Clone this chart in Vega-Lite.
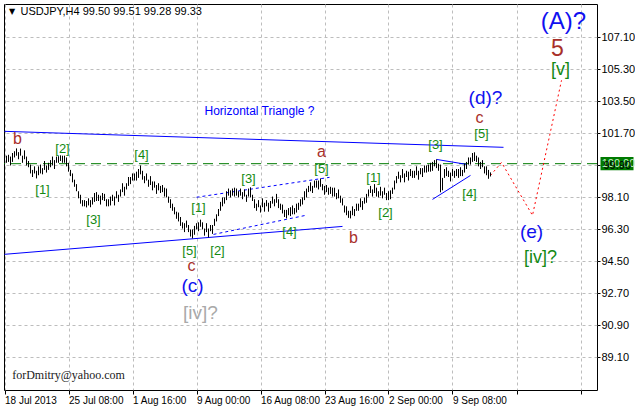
{
"$schema":"https://vega.github.io/schema/vega-lite/v6.json",
"width":593,"height":386,
"autosize":{"type":"none"},
"padding":{"left":4,"top":4,"right":38,"bottom":17},
"background":"#FFFFFF",
"config":{"view":{"stroke":"#000000","strokeWidth":1},"text":{"font":"Liberation Sans"}},
"datasets":{
"bars":[
{"i":1,"h":100.45,"l":100.05},{"i":2,"h":100.5,"l":100.1},{"i":3,"h":100.4,"l":99.9},{"i":4,"h":100.6,"l":100.1},{"i":5,"h":100.7,"l":100.35},{"i":6,"h":100.86,"l":100.45},{"i":7,"h":100.65,"l":100.25},{"i":8,"h":100.85,"l":100.45},{"i":9,"h":100.45,"l":100.05},{"i":10,"h":100.75,"l":100.25},
{"i":11,"h":100.4,"l":99.9},{"i":12,"h":100.15,"l":99.8},{"i":13,"h":99.95,"l":99.45},{"i":14,"h":99.65,"l":99.25},{"i":15,"h":99.85,"l":99.45},{"i":16,"h":99.6,"l":99.17},{"i":17,"h":99.85,"l":99.35},{"i":18,"h":99.95,"l":99.45},{"i":19,"h":99.75,"l":99.4},{"i":20,"h":100.15,"l":99.65},
{"i":21,"h":99.9,"l":99.5},{"i":22,"h":100.05,"l":99.65},{"i":23,"h":100.2,"l":99.8},{"i":24,"h":100.4,"l":99.9},{"i":25,"h":100.2,"l":99.7},{"i":26,"h":100.4,"l":100.05},{"i":27,"h":100.42,"l":100.05},{"i":28,"h":100.47,"l":100.15},{"i":29,"h":100.45,"l":100.05},{"i":30,"h":100.45,"l":100.05},
{"i":31,"h":100.35,"l":99.85},{"i":32,"h":100.05,"l":99.55},{"i":33,"h":99.65,"l":99.3},{"i":34,"h":99.45,"l":98.95},{"i":35,"h":99.1,"l":98.7},{"i":36,"h":98.85,"l":98.45},{"i":37,"h":98.45,"l":98.05},{"i":38,"h":98.25,"l":97.75},{"i":39,"h":97.95,"l":97.6},{"i":40,"h":97.95,"l":97.6},
{"i":41,"h":97.9,"l":97.54},{"i":42,"h":98.05,"l":97.65},{"i":43,"h":97.95,"l":97.55},{"i":44,"h":98.1,"l":97.7},{"i":45,"h":98.35,"l":97.85},{"i":46,"h":98.4,"l":97.9},{"i":47,"h":98.25,"l":97.9},{"i":48,"h":98.2,"l":97.7},{"i":49,"h":98.35,"l":97.95},{"i":50,"h":98.3,"l":97.9},
{"i":51,"h":98.0,"l":97.6},{"i":52,"h":98.0,"l":97.6},{"i":53,"h":98.15,"l":97.65},{"i":54,"h":98.25,"l":97.9},{"i":55,"h":98.15,"l":97.65},{"i":56,"h":98.45,"l":98.05},{"i":57,"h":98.25,"l":97.85},{"i":58,"h":98.55,"l":98.15},{"i":59,"h":98.9,"l":98.4},{"i":60,"h":98.7,"l":98.2},
{"i":61,"h":98.9,"l":98.55},{"i":62,"h":99.25,"l":98.75},{"i":63,"h":99.25,"l":98.85},{"i":64,"h":99.45,"l":99.05},{"i":65,"h":99.45,"l":99.05},{"i":66,"h":99.55,"l":99.05},{"i":67,"h":99.7,"l":99.2},{"i":68,"h":99.9,"l":99.4},{"i":69,"h":99.6,"l":99.1},{"i":70,"h":99.3,"l":98.9},
{"i":71,"h":99.45,"l":99.05},{"i":72,"h":99.1,"l":98.7},{"i":73,"h":99.3,"l":98.8},{"i":74,"h":99.0,"l":98.5},{"i":75,"h":99.0,"l":98.65},{"i":76,"h":98.8,"l":98.3},{"i":77,"h":98.9,"l":98.5},{"i":78,"h":98.75,"l":98.35},{"i":79,"h":98.8,"l":98.4},{"i":80,"h":98.65,"l":98.15},
{"i":81,"h":98.6,"l":98.1},{"i":82,"h":98.15,"l":97.8},{"i":83,"h":98.0,"l":97.5},{"i":84,"h":97.75,"l":97.35},{"i":85,"h":97.55,"l":97.15},{"i":86,"h":97.3,"l":96.9},{"i":87,"h":97.25,"l":96.75},{"i":88,"h":97.0,"l":96.5},{"i":89,"h":96.7,"l":96.35},{"i":90,"h":96.65,"l":96.15},
{"i":91,"h":96.8,"l":96.4},{"i":92,"h":96.55,"l":96.15},{"i":93,"h":96.3,"l":95.9},{"i":94,"h":96.3,"l":95.8},{"i":95,"h":96.5,"l":96.0},{"i":96,"h":96.65,"l":96.3},{"i":97,"h":96.7,"l":96.2},{"i":98,"h":96.85,"l":96.45},{"i":99,"h":96.7,"l":96.3},{"i":100,"h":96.35,"l":95.95},
{"i":101,"h":96.65,"l":96.15},{"i":102,"h":96.35,"l":95.85},{"i":103,"h":96.55,"l":96.2},{"i":104,"h":96.55,"l":96.05},{"i":105,"h":96.9,"l":96.5},{"i":106,"h":97.15,"l":96.75},{"i":107,"h":97.45,"l":97.05},{"i":108,"h":97.85,"l":97.35},{"i":109,"h":98.1,"l":97.6},{"i":110,"h":98.1,"l":97.75},
{"i":111,"h":98.45,"l":97.95},{"i":112,"h":98.6,"l":98.2},{"i":113,"h":98.5,"l":98.1},{"i":114,"h":98.6,"l":98.2},{"i":115,"h":98.65,"l":98.15},{"i":116,"h":98.6,"l":98.2},{"i":117,"h":98.45,"l":98.1},{"i":118,"h":98.6,"l":98.2},{"i":119,"h":98.4,"l":98.0},{"i":120,"h":98.55,"l":98.15},
{"i":121,"h":98.25,"l":97.85},{"i":122,"h":98.6,"l":98.15},{"i":123,"h":98.67,"l":98.1},{"i":124,"h":98.25,"l":97.9},{"i":125,"h":98.0,"l":97.5},{"i":126,"h":97.75,"l":97.35},{"i":127,"h":97.95,"l":97.55},{"i":128,"h":97.65,"l":97.25},{"i":129,"h":98.05,"l":97.55},{"i":130,"h":97.8,"l":97.3},
{"i":131,"h":97.95,"l":97.6},{"i":132,"h":97.8,"l":97.3},{"i":133,"h":97.9,"l":97.5},{"i":134,"h":98.15,"l":97.75},{"i":135,"h":98.0,"l":97.6},{"i":136,"h":98.3,"l":97.8},{"i":137,"h":98.0,"l":97.5},{"i":138,"h":97.75,"l":97.4},{"i":139,"h":97.7,"l":97.2},{"i":140,"h":97.4,"l":97.0},
{"i":141,"h":97.4,"l":96.92},{"i":142,"h":97.5,"l":97.1},{"i":143,"h":97.55,"l":97.05},{"i":144,"h":97.65,"l":97.15},{"i":145,"h":97.5,"l":97.15},{"i":146,"h":97.75,"l":97.25},{"i":147,"h":97.8,"l":97.4},{"i":148,"h":98.0,"l":97.6},{"i":149,"h":98.1,"l":97.7},{"i":150,"h":98.45,"l":97.95},
{"i":151,"h":98.6,"l":98.1},{"i":152,"h":98.75,"l":98.4},{"i":153,"h":98.95,"l":98.45},{"i":154,"h":98.75,"l":98.35},{"i":155,"h":99.05,"l":98.65},{"i":156,"h":99.05,"l":98.65},{"i":157,"h":99.05,"l":98.55},{"i":158,"h":99.17,"l":98.7},{"i":159,"h":98.85,"l":98.5},{"i":160,"h":98.75,"l":98.25},
{"i":161,"h":98.8,"l":98.4},{"i":162,"h":98.65,"l":98.25},{"i":163,"h":98.7,"l":98.3},{"i":164,"h":98.65,"l":98.15},{"i":165,"h":98.65,"l":98.15},{"i":166,"h":98.35,"l":98.0},{"i":167,"h":98.55,"l":98.05},{"i":168,"h":98.2,"l":97.8},{"i":169,"h":98.05,"l":97.65},{"i":170,"h":97.65,"l":97.25},
{"i":171,"h":97.6,"l":97.1},{"i":172,"h":97.35,"l":96.95},{"i":173,"h":97.35,"l":96.92},{"i":174,"h":97.6,"l":97.1},{"i":175,"h":97.45,"l":97.05},{"i":176,"h":97.75,"l":97.35},{"i":177,"h":97.75,"l":97.35},{"i":178,"h":98.05,"l":97.55},{"i":179,"h":97.9,"l":97.4},{"i":180,"h":98.1,"l":97.75},
{"i":181,"h":98.3,"l":97.8},{"i":182,"h":98.55,"l":98.15},{"i":183,"h":98.75,"l":98.35},{"i":184,"h":98.55,"l":98.15},{"i":185,"h":98.85,"l":98.35},{"i":186,"h":98.65,"l":98.15},{"i":187,"h":98.45,"l":98.1},{"i":188,"h":98.7,"l":98.2},{"i":189,"h":98.45,"l":98.05},{"i":190,"h":98.65,"l":98.25},
{"i":191,"h":98.35,"l":97.95},{"i":192,"h":98.45,"l":97.95},{"i":193,"h":98.5,"l":98.0},{"i":194,"h":98.65,"l":98.3},{"i":195,"h":99.05,"l":98.55},{"i":196,"h":99.3,"l":98.9},{"i":197,"h":99.55,"l":99.15},{"i":198,"h":99.35,"l":98.95},{"i":199,"h":99.7,"l":99.2},{"i":200,"h":99.45,"l":98.95},
{"i":201,"h":99.6,"l":99.25},{"i":202,"h":99.55,"l":99.05},{"i":203,"h":99.7,"l":99.3},{"i":204,"h":99.6,"l":99.2},{"i":205,"h":99.6,"l":99.2},{"i":206,"h":99.85,"l":99.35},{"i":207,"h":99.6,"l":99.1},{"i":208,"h":99.75,"l":99.4},{"i":209,"h":99.75,"l":99.25},{"i":210,"h":99.9,"l":99.5},
{"i":211,"h":99.9,"l":99.5},{"i":212,"h":99.95,"l":99.55},{"i":213,"h":100.05,"l":99.55},{"i":214,"h":100.1,"l":99.6},{"i":215,"h":100.2,"l":99.85},{"i":216,"h":100.24,"l":99.75},{"i":217,"h":100.0,"l":99.6},{"i":218,"h":99.95,"l":98.39},{"i":219,"h":99.2,"l":98.5},{"i":220,"h":99.7,"l":99.2},
{"i":221,"h":99.8,"l":99.3},{"i":222,"h":99.6,"l":99.25},{"i":223,"h":99.5,"l":99.0},{"i":224,"h":99.7,"l":99.3},{"i":225,"h":99.6,"l":99.2},{"i":226,"h":99.7,"l":99.3},{"i":227,"h":99.7,"l":99.2},{"i":228,"h":99.8,"l":99.3},{"i":229,"h":99.65,"l":99.3},{"i":230,"h":100.0,"l":99.5},
{"i":231,"h":100.1,"l":99.7},{"i":232,"h":100.35,"l":99.95},{"i":233,"h":100.35,"l":99.95},{"i":234,"h":100.6,"l":100.1},{"i":235,"h":100.64,"l":100.15},{"i":236,"h":100.45,"l":100.1},{"i":237,"h":100.35,"l":99.85},{"i":238,"h":100.1,"l":99.7},{"i":239,"h":100.2,"l":99.8},{"i":240,"h":99.85,"l":99.45},
{"i":241,"h":99.85,"l":99.35},{"i":242,"h":99.65,"l":99.15},{"i":243,"h":99.51,"l":99.28}
],
"solid":[
{"s":"upper","i":0,"p":101.82},{"s":"upper","i":249.5,"p":100.92},
{"s":"lower","i":0,"p":94.9},{"s":"lower","i":169,"p":96.47},
{"s":"small1","i":214,"p":97.99},{"s":"small1","i":233,"p":99.34},
{"s":"small2","i":216,"p":100.24},{"s":"small2","i":231,"p":99.96}
],
"dashed":[
{"s":"top","i":96,"p":98.11},{"s":"top","i":162.5,"p":99.23},
{"s":"bot","i":104.5,"p":96.02},{"s":"bot","i":150.5,"p":97.09}
],
"forecast":[
{"i":243,"p":99.34},{"i":248.5,"p":100.07},{"i":264,"p":97.09},{"i":278.5,"p":104.69}
],
"labels":[
{"k":"g","t":"[1]","i":19,"p":98.5},{"k":"g","t":"[2]","i":29,"p":100.8},{"k":"g","t":"[3]","i":44.5,"p":96.81},{"k":"g","t":"[4]","i":68.5,"p":100.47},
{"k":"g","t":"[1]","i":97,"p":97.49},{"k":"g","t":"[2]","i":106.5,"p":95.07},{"k":"g","t":"[3]","i":122,"p":99.12},{"k":"g","t":"[4]","i":142.5,"p":96.14},{"k":"g","t":"[5]","i":92.5,"p":95.07},
{"k":"g","t":"[5]","i":158.5,"p":99.68},{"k":"g","t":"[1]","i":184.5,"p":99.17},{"k":"g","t":"[2]","i":190.5,"p":97.2},{"k":"g","t":"[3]","i":215.5,"p":101.03},{"k":"g","t":"[4]","i":232.5,"p":98.27},{"k":"g","t":"[5]","i":238.5,"p":101.66},
{"k":"r","t":"b","i":6.5,"p":101.37},{"k":"r","t":"c","i":93.5,"p":94.25},{"k":"r","t":"a","i":158.5,"p":100.63},{"k":"r","t":"b","i":174.5,"p":95.8},{"k":"r","t":"c","i":237.5,"p":102.58},
{"k":"b","t":"(c)","i":94,"p":93.1},{"k":"b","t":"(d)?","i":240.5,"p":103.7},{"k":"b","t":"(e)","i":263.5,"p":96.13},
{"k":"gray","t":"[iv]?","i":98,"p":91.58},
{"k":"gbig","t":"[iv]?","i":268,"p":94.67},{"k":"gbig","t":"[v]","i":278,"p":105.25},
{"k":"A","t":"(A)?","i":279.5,"p":107.95},
{"k":"five","t":"5","i":276.5,"p":106.48},
{"k":"ht","t":"Horizontal Triangle ?","i":127.5,"p":102.94},
{"k":"mail","t":"forDmitry@yahoo.com","i":32,"p":88.09},
{"k":"title","t":"USDJPY,H4  99.50 99.51 99.28 99.33","i":8,"p":108.51},
{"k":"tri","t":"▼","i":3.8,"p":108.51}
]
},
"layer":[
{"data":{"values":[{"p":100}]},"mark":{"type":"rule","color":"#007A00","strokeWidth":1,"strokeDash":[10,6]},
 "encoding":{"y":{"field":"p","type":"quantitative","title":null}}},
{"data":{"name":"solid"},"mark":{"type":"line","color":"#0000FF","strokeWidth":1},
 "encoding":{"x":{"field":"i","type":"quantitative","title":null},"y":{"field":"p","type":"quantitative","title":null},"detail":{"field":"s"}}},
{"data":{"name":"dashed"},"mark":{"type":"line","color":"#0000FF","strokeWidth":1,"strokeDash":[3,3]},
 "encoding":{"x":{"field":"i","type":"quantitative","title":null},"y":{"field":"p","type":"quantitative","title":null},"detail":{"field":"s"}}},
{"data":{"name":"forecast"},"mark":{"type":"line","color":"#FF0000","strokeWidth":1,"strokeDash":[2,3]},
 "encoding":{"x":{"field":"i","type":"quantitative","title":null},"y":{"field":"p","type":"quantitative","title":null}}},
{"data":{"name":"bars"},"mark":{"type":"rule","color":"#000000","strokeWidth":1},
 "encoding":{
  "x":{"field":"i","type":"quantitative","title":null,"scale":{"domain":[-0.25,296.25],"nice":false,"zero":false},
   "axis":{"values":[0,32,64,96,128,160,192,224,256,288],"tickCount":20,
    "labelExpr":"datum.value==0?'18 Jul 2013':datum.value==32?'25 Jul 08:00':datum.value==64?'1 Aug 16:00':datum.value==96?'9 Aug 00:00':datum.value==128?'16 Aug 08:00':datum.value==160?'23 Aug 16:00':datum.value==192?'2 Sep 00:00':datum.value==224?'9 Sep 08:00':''",
    "labelAlign":"left","labelBaseline":"top","labelPadding":1,"labelFont":"Liberation Sans","labelFontSize":10,"labelColor":"#000000",
    "tickColor":"#000000","tickSize":4,"domain":false,"grid":true,"gridColor":"#BDBDBD","gridDash":[3,3],
    "labelOverlap":false,"labelBound":false,"labelFlush":false}},
  "y":{"field":"h","type":"quantitative","title":null,"scale":{"domain":[87.265,108.985],"nice":false,"zero":false},
   "axis":{"orient":"right","values":[89.1,90.9,92.7,94.5,96.3,98.1,99.9,101.7,103.5,105.3,107.1],"tickCount":20,
    "labelExpr":"(datum.value>99.8 && datum.value<100) ? '' : format(datum.value,'.2f')",
    "labelFont":"Liberation Sans","labelFontSize":11,"labelColor":"#000000","labelPadding":1,"labelBaseline":"middle",
    "tickColor":"#000000","tickSize":3,"domain":false,"grid":true,"gridColor":"#BDBDBD","gridDash":[3,3],"labelOverlap":false,"labelBound":false,"labelFlush":false}},
  "y2":{"field":"l"}}},
{"data":{"values":[{"a":298,"b":314.5,"p1":100.37,"p2":99.63}]},"mark":{"type":"rect","color":"#007A00"},
 "encoding":{"x":{"field":"a","type":"quantitative","title":null},"x2":{"field":"b"},"y":{"field":"p1","type":"quantitative","title":null},"y2":{"field":"p2"}}},
{"data":{"values":[{"t":"100.00","i":298.6,"p":100.0}]},"mark":{"type":"text","align":"left","baseline":"middle","fontSize":11,"color":"#C8F0C8","font":"Liberation Sans"},
 "encoding":{"x":{"field":"i","type":"quantitative","title":null},"y":{"field":"p","type":"quantitative","title":null},"text":{"field":"t"}}},
{"data":{"values":[{"t":"99.90","i":299.5,"p":99.87}]},"mark":{"type":"text","align":"left","baseline":"middle","fontSize":11,"color":"#000000","font":"Liberation Sans"},
 "encoding":{"x":{"field":"i","type":"quantitative","title":null},"y":{"field":"p","type":"quantitative","title":null},"text":{"field":"t"}}},
{"data":{"name":"labels"},"transform":[{"filter":"datum.k=='g'"}],"mark":{"type":"text","align":"center","baseline":"middle","fontSize":13,"color":"#138A13"},
 "encoding":{"x":{"field":"i","type":"quantitative","title":null},"y":{"field":"p","type":"quantitative","title":null},"text":{"field":"t"}}},
{"data":{"name":"labels"},"transform":[{"filter":"datum.k=='r'"}],"mark":{"type":"text","align":"center","baseline":"middle","fontSize":16,"color":"#A8302A"},
 "encoding":{"x":{"field":"i","type":"quantitative","title":null},"y":{"field":"p","type":"quantitative","title":null},"text":{"field":"t"}}},
{"data":{"name":"labels"},"transform":[{"filter":"datum.k=='b'"}],"mark":{"type":"text","align":"center","baseline":"middle","fontSize":19,"color":"#1010F0"},
 "encoding":{"x":{"field":"i","type":"quantitative","title":null},"y":{"field":"p","type":"quantitative","title":null},"text":{"field":"t"}}},
{"data":{"name":"labels"},"transform":[{"filter":"datum.k=='gray'"}],"mark":{"type":"text","align":"center","baseline":"middle","fontSize":19,"color":"#A9A9A9"},
 "encoding":{"x":{"field":"i","type":"quantitative","title":null},"y":{"field":"p","type":"quantitative","title":null},"text":{"field":"t"}}},
{"data":{"name":"labels"},"transform":[{"filter":"datum.k=='gbig'"}],"mark":{"type":"text","align":"center","baseline":"middle","fontSize":18,"color":"#138A13"},
 "encoding":{"x":{"field":"i","type":"quantitative","title":null},"y":{"field":"p","type":"quantitative","title":null},"text":{"field":"t"}}},
{"data":{"name":"labels"},"transform":[{"filter":"datum.k=='A'"}],"mark":{"type":"text","align":"center","baseline":"middle","fontSize":24,"color":"#1010F0"},
 "encoding":{"x":{"field":"i","type":"quantitative","title":null},"y":{"field":"p","type":"quantitative","title":null},"text":{"field":"t"}}},
{"data":{"name":"labels"},"transform":[{"filter":"datum.k=='five'"}],"mark":{"type":"text","align":"center","baseline":"middle","fontSize":23,"color":"#A8302A"},
 "encoding":{"x":{"field":"i","type":"quantitative","title":null},"y":{"field":"p","type":"quantitative","title":null},"text":{"field":"t"}}},
{"data":{"name":"labels"},"transform":[{"filter":"datum.k=='ht'"}],"mark":{"type":"text","align":"center","baseline":"middle","fontSize":12,"color":"#0000FF"},
 "encoding":{"x":{"field":"i","type":"quantitative","title":null},"y":{"field":"p","type":"quantitative","title":null},"text":{"field":"t"}}},
{"data":{"name":"labels"},"transform":[{"filter":"datum.k=='mail'"}],"mark":{"type":"text","align":"center","baseline":"middle","fontSize":12,"color":"#1A1A1A","font":"Liberation Serif"},
 "encoding":{"x":{"field":"i","type":"quantitative","title":null},"y":{"field":"p","type":"quantitative","title":null},"text":{"field":"t"}}},
{"data":{"name":"labels"},"transform":[{"filter":"datum.k=='title'"}],"mark":{"type":"text","align":"left","baseline":"middle","fontSize":11,"color":"#000000"},
 "encoding":{"x":{"field":"i","type":"quantitative","title":null},"y":{"field":"p","type":"quantitative","title":null},"text":{"field":"t"}}},
{"data":{"name":"labels"},"transform":[{"filter":"datum.k=='tri'"}],"mark":{"type":"text","align":"center","baseline":"middle","fontSize":8,"color":"#000000","font":"DejaVu Sans"},
 "encoding":{"x":{"field":"i","type":"quantitative","title":null},"y":{"field":"p","type":"quantitative","title":null},"text":{"field":"t"}}}
]
}
